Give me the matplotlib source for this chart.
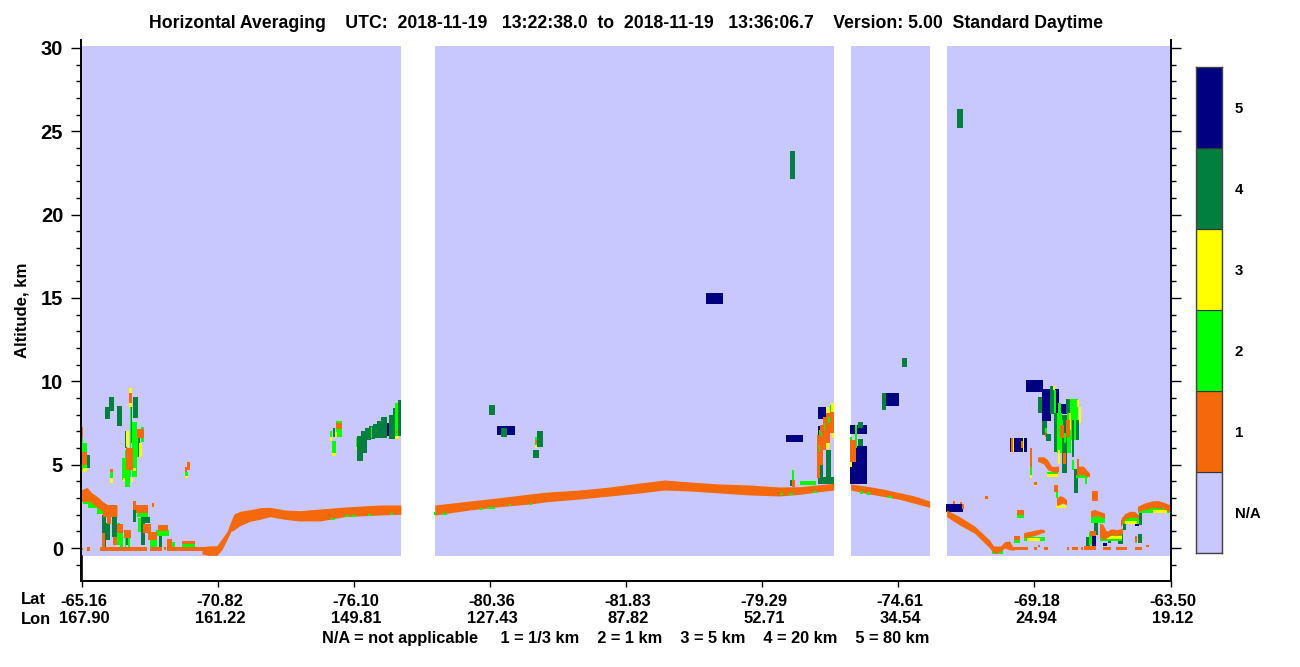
import matplotlib
matplotlib.use("Agg")
import matplotlib.pyplot as plt
from matplotlib.ticker import MultipleLocator
from matplotlib.transforms import ScaledTranslation

plt.rcParams['font.family'] = ['Liberation Sans', 'DejaVu Sans']
plt.rcParams['font.weight'] = 'bold'

TITLE = "Horizontal Averaging    UTC:  2018-11-19   13:22:38.0  to  2018-11-19   13:36:06.7    Version: 5.00  Standard Daytime"
FOOT = "N/A = not applicable     1 = 1/3 km    2 = 1 km    3 = 5 km    4 = 20 km    5 = 80 km"
lat_labels = ["-65.16", "-70.82", "-76.10", "-80.36", "-81.83", "-79.29", "-74.61", "-69.18", "-63.50"]
lon_labels = ["167.90", "161.22", "149.81", "127.43", "87.82", "52.71", "34.54", "24.94", "19.12"]
level_names = ["N/A", "1", "2", "3", "4", "5"]
level_colors = ["#C8C8FF", "#F5690B", "#00FF00", "#FFFF00", "#007F3F", "#000080"]

# along-track position of each valid data segment (start, end)
segments = [(81, 401), (435, 834), (851, 930), (947, 1170)]
valid_alt = (-0.48, 30.12)

# (x0, x1, top km, bottom km)
level5 = [(385,389,7.5,6.72),(389,393,7.5,7.08),(497,515,7.32,6.78),(706,723,15.3,14.64),(786,803,6.78,6.36),
 (818,826,8.46,7.74),(818,822,7.32,6.78),(850,867,6.12,3.84),(850,867,7.38,6.84),(886,899,9.3,8.52),
 (946,963,2.64,2.16),(1026,1043,10.08,9.36),(1042,1051,9.54,7.62),(1054,1059,9.54,8.08),(1058,1067,8.64,8.04),
 (1010,1027,6.6,5.76),(1092,1096,.78,.12),(1135,1139.3,1.78,1.32),(1103,1107,.28,.12),(112,113,1.08,.72)]

level4 = [(105,110,8.48,7.74),(109,114,9.06,8.24),(117,122,8.52,7.32),(133,138,9.06,7.8),(86.7,90,5.58,4.82),
 (125,126.7,7.02,5.98),(131,132.3,8.48,6.28),(138.3,140,6.58,5.48),(101.7,106,1.98,.08),(106,110,1.48,.48),
 (112,116.7,1.88,.68),(126,128.3,.58,.18),(133.3,136,2.28,1.58),(141,145,1.88,.18),(145,150,1.88,1.48),
 (159.3,161.7,.72,.08),(333,335,7.18,6.68),(357,363,6.72,5.22),(361,367,7.02,5.7),(365,371,7.2,6.48),
 (369,375,7.32,6.54),(373,381,7.44,6.6),(377,385,7.62,6.6),(381,387,7.86,6.6),(389,395,7.98,6.54),
 (393,397,8.4,7.48),(398,401,8.88,6.72),(489,495,8.58,7.98),(501,507,7.2,6.66),(537,543,7.02,6.06),
 (533,539,5.88,5.4),(790,795,23.82,22.14),(902,907,11.4,10.86),(957,963,26.34,25.2),(818,823,4.98,3.84),
 (826,831,5.88,3.84),(818,834,4.28,3.84),(790,792,4.08,3.72),(858,863,7.56,7.2),(858,863,6.54,6.12),
 (882,886,9.3,8.28),(1038,1042,9.06,8.1),(1050,1054,9.72,8.04),(1042,1047,7.62,6.78),(1046,1051,6.84,6.42),
 (1054,1057.3,8.08,5.78),(1062,1067,7.98,4.52),(1066,1071,8.94,8.08),(1076,1079,7.68,6.48),(1072,1074,7.68,5.44),
 (1074,1078,4.74,3.32),(1094,1098,1.68,.78),(1086,1090,.68,.08),(1118,1123,.88,.24),(1108,1111,.78,.32),
 (1123,1126,1.58,1.08),(1139,1142,2.28,1.38),(1138,1142,.84,.32)]

level2 = [(81,83.3,7.24,4.88),(81,86.7,6.28,4.68),(110,113,4.74,3.92),(121.7,125,5.38,4.08),(125,130,5.88,3.68),
 (132.3,136.7,7.58,4.28),(130,131,8.58,4.28),(136.7,138.3,6.98,5.48),(140.7,144,7.28,6.38),(185,187.7,4.58,4.32),
 (83.3,90,2.88,2.64),(88.3,100,2.72,2.38),(96.7,106.7,2.38,2.04),(116.7,120,1.48,.18),(120,123.3,.88,.08),
 (125,126,.58,.08),(128.3,130,.58,.08),(136.7,148.3,2.18,1.88),(138.3,141,1.78,.98),(150,156.7,.48,.08),
 (156,169.3,1.08,.72),(171.7,175,.38,.08),(182,195,.44,.08),(330,332,7.02,6.68),(332,336,6.44,5.72),
 (336,342,7.62,6.64),(395,398,8.68,6.68),(356,357,6.58,5.98),(371,372,7.28,6.58),(535,537,6.66,6.02),
 (830,834,8.58,7.28),(825,826,6.88,6.08),(819,821,7.08,6.78),(818,820,5.08,4.58),(792,794,4.68,4.08),
 (800,816,4.02,3.78),(855,857,7.38,5.98),(850,852,6.68,6.18),(1054,1056,9.48,8.08),(1045,1047,7.18,6.88),
 (1070,1072,8.92,6.48),(1074,1076,8.92,6.48),(1072,1076,8.92,7.68),(1076,1078.3,8.92,7.68),(1057.3,1062,8.08,5.68),(1067,1071.7,8.08,5.68),
 (1058,1061,8.68,8.08),(1030,1032,4.88,4.38),(1072,1074,5.28,4.68),(1056,1058,3.38,2.98),(1076.7,1088,4.38,4.18),
 (1085,1087,4.18,3.84),(1047,1058,4.58,4.44),(1024,1045,.68,.44),(1014,1020,.48,.32),(1017,1024,2.08,1.78),
 (992,1003,-.12,-.36),(1091,1105,1.88,1.48),(1100,1122,.88,.44),(1122,1139,1.85,1.42),(1138,1170,2.48,2.12),
 (1089,1092,.98,.18),(1135,1137,.48,.3)]

level3 = [(83.3,87.3,4.78,4.58),(110,113,4.18,3.92),(129.3,132,9.58,8.48),(126,128.7,7.02,6.04),(139.3,142,6.28,5.44),
 (133.3,136,4.78,4.62),(123.3,125,4.18,4.04),(130.7,133.3,4.18,3.98),(185,187.7,4.32,4.18),(330,332,6.68,6.44),
 (332,336,5.72,5.52),(335,336.7,6.98,6.64),(395,399,6.72,6.54),(535,537,6.18,6.02),(356,357,6.08,5.92),
 (826,829,8.48,7.88),(826,829,6.28,5.92),(831,834,8.68,8.08),(832,834,7.38,6.58),(820.7,823.3,5.28,5.08),
 (850,852,5.18,4.84),(854,856,6.08,5.68),(1053,1055,9.72,9.48),(1077,1079,8.88,8.44),(1079,1081,8.44,7.48),
 (1058,1060,5.88,5.04),(1069.3,1071,8.08,7.08),(1030,1032,4.38,4.22),(1047,1058,4.44,4.28),(1034,1037,3.82,3.74),
 (1056.7,1066.7,2.6,2.42),(1153,1167,2.3,2.12),(1125,1137,1.6,1.42),(1105,1122,.72,.52),(1027,1040,.62,.44),
 (1013,1014,6.6,5.76),(1023,1024,6.6,5.76)]

level1 = [(81,83.3,7.24,6.68),(82,86.7,5.78,4.98),(129.3,132,9.28,8.68),(126,133.3,5.98,4.68),(136.7,144,7.12,6.58),
 (186.7,190,5.14,4.68),(185,187.3,4.88,4.58),(110,113,4.74,4.58),(101.7,105,.88,.08),(106.7,110.7,1.98,1.44),
 (112.7,116.7,.68,.18),(117.3,123.3,1.44,.88),(124,131,1.08,.58),(136,148.3,2.58,2.08),(133.3,136,2.82,2.28),
 (143.3,151,1.44,.88),(147.7,156.7,.98,.48),(158.3,168.3,1.38,1.04),(167.3,171.7,.52,.08),(151.7,154,2.68,2.44),
 (182,195,.44,.24),(103.3,117.3,2.58,1.88),(100,146.7,.08,-.16),(87.3,90,.08,-.16),(81,83.3,.02,-.12),
 (150,162,.08,-.16),(164,166,.08,-.12),(167.3,203.3,.08,-.16),(336,342,7.52,7.12),(396,397.3,7.08,6.88),
 (535,537,6.48,6.28),(817,820,6.78,4.18),(820,823.3,7.38,4.98),(823.3,826.7,7.88,5.88),(826.7,830,8.08,6.28),
 (830,834,8.18,6.88),(792,795,4.08,3.68),(850,856,6.48,5.18),(1030,1032,5.98,4.88),
 (1034,1037,3.96,3.8),(1077,1079,5.34,4.68),
 (1054,1058,3.78,3.38),(1092,1098,3.44,2.84),(985,988,3.12,2.94),(953.3,955,2.82,2.64),
 (960,962,2.76,2.64),(962,964,2.64,2.34),(1017,1024,2.28,1.98),
 (1014,1020,.72,.48),(1090,1096.7,1.04,.72),(1135,1137.3,.72,.38),
 (1060,1064,7.38,6.58),(1066,1070,7.68,6.68),(1063.3,1066.7,5.68,5.04),(1011,1013,6.58,5.78),(1021,1023,6.44,5.98),
 (1045.3,1046.7,6.98,6.68),(1015,1028,.08,-.12),(1034,1037,.08,-.12),(1044,1048,.08,-.12),(1067,1069,.08,-.12),
 (1072,1078,.08,-.12),(1081,1083,.08,-.12),(1084,1096,.14,-.12),(1103,1111,.08,-.12),(1116,1127,.08,-.12),
 (1135,1142,.08,-.12),(1146.7,1149,.18,.08),(1038,1040,.18,.08)]

level2_top = [(828,830,7.88,7.48),(824,825.3,7.48,7.08),(821.3,822.7,6.98,6.68),(819.3,820.7,6.18,5.78),
 (331,335,1.82,1.7),(345,349,1.98,1.84),(352,356,1.98,1.86),(368,371,2.06,1.94),(390,393,2.1,1.98),
 (434,436,2.18,1.98),(442,447,2.12,1.98),(480,483,2.42,2.28),(488,495,2.48,2.34),(509,511,2.64,2.52),
 (530,532,2.72,2.6),(780,783,3.32,3.18),(789,793,3.32,3.18),(813,817,3.42,3.28),(860,863,3.42,3.26),
 (867,870,3.36,3.2),(888,892,3.12,3.02),(1060,1063,7.68,7.38),(1064,1066,6.88,6.3)]

# ground-return band and curved low cloud, one list per stretch
surface_x = [[81,87,92,97,103,108,117],
             [202,208,217,222,227,231,234,240,250,260,270,285,300,320,345,380,401],
             [435,470,500,530,548,580,610,640,665,690,720,750,780,800,817,834],
             [851,870,885,900,915,930],
             [947,960,975,990,994,997,1001,1005,1010,1013,1015],
             [1024,1030,1036,1042,1045],
             [1038,1044,1048,1052,1056,1059],
             [1077,1080,1084,1087,1090],
             [1057,1060,1063,1067],
             [1091,1095,1100,1105],
             [1100,1103,1107,1112,1118,1123],
             [1121,1125,1130,1135,1139],
             [1138,1145,1152,1158,1164,1170]]
surface_top = [[3.48,3.64,3.3,3.1,2.78,2.58,2.56],
               [.08,.12,.14,.56,.98,1.6,2.04,2.2,2.3,2.42,2.44,2.28,2.24,2.34,2.46,2.58,2.58],
               [2.58,2.82,3.02,3.24,3.36,3.48,3.66,3.9,4.08,3.96,3.84,3.78,3.66,3.68,3.78,3.88],
               [3.84,3.68,3.52,3.32,3.12,2.82],
               [2.28,1.88,1.32,.48,.12,.12,.12,.38,.42,.1,.08],
               [.92,1.0,1.08,1.14,1.08],
               [5.46,5.48,5.3,4.9,4.9,4.92],
               [4.9,4.92,4.9,4.7,4.5],
               [3.0,3.14,3.1,2.9],
               [2.24,2.32,2.2,2.1],
               [1.48,1.45,1.0,1.15,1.1,1.2],
               [1.7,2.05,2.2,2.2,2.0],
               [2.5,2.7,2.82,2.85,2.75,2.6]]
surface_bottom = [[2.78,2.82,2.7,2.44,2.2,2.0,1.88],
                  [-.36,-.44,-.44,-.1,.5,1.0,1.08,1.34,1.6,1.72,1.88,1.72,1.62,1.62,1.88,1.98,2.02],
                  [1.98,2.28,2.48,2.64,2.78,2.94,3.12,3.3,3.48,3.42,3.3,3.18,3.12,3.22,3.36,3.48],
                  [3.48,3.24,3.08,2.92,2.68,2.44],
                  [1.88,1.38,.88,0,-.3,-.32,-.2,0,-.12,-.12,-.12],
                  [.62,.68,.76,.9,.96],
                  [5.2,5.05,4.7,4.6,4.5,4.6],
                  [4.3,4.4,4.4,4.3,4.28],
                  [2.55,2.6,2.7,2.6],
                  [1.88,1.9,1.9,1.8],
                  [.7,.5,.6,.8,.75,.85],
                  [1.25,1.7,1.85,1.85,1.75],
                  [2.2,2.3,2.4,2.42,2.35,2.2]]

W, H = 1300, 667
fig = plt.figure(figsize=(W/100, H/100), dpi=100, facecolor='white')
AX_L, AX_R, AX_B, AX_T = 80.5, 1170.5, 581, 40
ax = fig.add_axes([AX_L/W, 1-AX_B/H, (AX_R-AX_L)/W, (AX_B-AX_T)/H])
ax.set_xlim(AX_L, AX_R)
ax.set_ylim(-1.98, 30.48)

def blocks(rects, color, z):
    for x0, x1, top, bot in rects:
        ax.bar(x0, top-bot, width=x1-x0, bottom=bot, align='edge', color=color, linewidth=0,
               antialiased=False, zorder=z)

blocks([(s0, s1, valid_alt[1], valid_alt[0]) for s0, s1 in segments], level_colors[0], 1)
blocks(level5, level_colors[5], 2)
blocks(level4, level_colors[4], 3)
blocks(level2, level_colors[2], 4)
blocks(level3, level_colors[3], 5)
blocks(level1, level_colors[1], 6)
for xs, top, bot in zip(surface_x, surface_top, surface_bottom):
    ax.fill_between(xs, bot, top, color=level_colors[1], linewidth=0, antialiased=False, zorder=6)
blocks(level2_top, level_colors[2], 7)

# axes furniture
ax.spines['top'].set_visible(False)
for s in ('left', 'right', 'bottom'):
    ax.spines[s].set_linewidth(1.4)
ax.spines['left'].set_zorder(10)
ax.plot([82, 82], [-1.98, -0.48], color='black', lw=1.2, zorder=10, clip_on=False)

ax.yaxis.set_minor_locator(MultipleLocator(1))
ax.tick_params(axis='y', which='major', left=True, right=True, length=7.5, width=1.0, labelsize=14.5, pad=5)
ax.tick_params(axis='y', which='minor', left=True, right=True, length=3.6, width=1.0)
ax.set_yticks([0, 5, 10, 15, 20, 25, 30])
ax.set_yticklabels(["0", "5", "10", "15", "20", "25", "30"], fontweight='bold')
fig.text(22/W, 1-310/H, "Altitude, km", fontsize=12.1, fontweight='bold', rotation=90, va='center', ha='center')

n = len(lat_labels)
xt = [82 + (1171-82)*i/(n-1) for i in range(n)]
ax.set_xticks(xt)
ax.set_xticklabels([f"{a}\n{b}" for a, b in zip(lat_labels, lon_labels)], fontsize=11.9, fontweight='bold',
                   linespacing=1.12)
ax.tick_params(axis='x', length=4.5, width=1.0, pad=5)
shift = ScaledTranslation(2/100, 0, fig.dpi_scale_trans)
for lab in ax.get_xticklabels():
    lab.set_transform(lab.get_transform() + shift)

fig.text(21/W, 1-600/H, "Lat", fontsize=11.9, fontweight='bold', va='center', ha='left')
fig.text(21/W, 1-619/H, "Lon", fontsize=11.9, fontweight='bold', va='center', ha='left')
fig.text(626/W, 1-23/H, TITLE, fontsize=12.7, fontweight='bold', va='center', ha='center')
fig.text(626/W, 1-639/H, FOOT, fontsize=11.8, fontweight='bold', va='center', ha='center')

# colour key
cax = fig.add_axes([1196/W, 1-553/H, 26/W, 486/H])
cax.bar([0]*6, [1]*6, width=1, bottom=range(6), color=level_colors, edgecolor='#333333', linewidth=0.8, align='edge')
cax.set_xlim(0, 1)
cax.set_ylim(0, 6)
cax.set_xticks([])
cax.set_yticks([i+0.5 for i in range(6)])
cax.set_yticklabels(level_names, fontsize=10.8, fontweight='bold')
cax.yaxis.tick_right()
cax.tick_params(axis='y', length=0, pad=9)
for lab in cax.get_yticklabels():
    lab.set_ha('left')
for sp in cax.spines.values():
    sp.set_linewidth(1.0)
    sp.set_color('#444444')

fig.savefig("out.png", dpi=100)
